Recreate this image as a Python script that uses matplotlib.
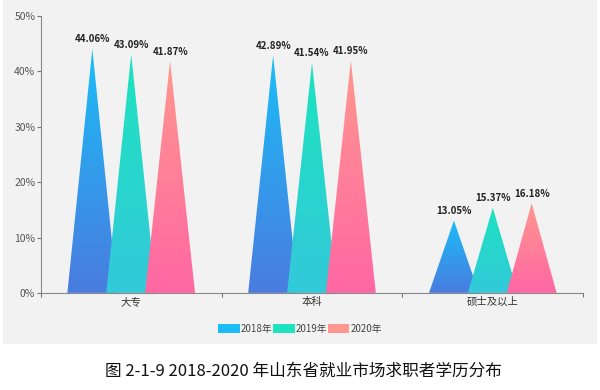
# -*- coding: utf-8 -*-
"""Education level of job seekers in Shandong, 2018-2020 (triangle bars)."""

import numpy as np
import matplotlib as mpl
mpl.use('Agg')
import matplotlib.pyplot as plt
from matplotlib.patches import Polygon, Rectangle, Patch
from matplotlib.colors import LinearSegmentedColormap

plt.rcParams['font.family'] = ['Noto Sans CJK SC', 'DejaVu Sans']

categories = ['大专', '本科', '硕士及以上']
years = ['2018年', '2019年', '2020年']
v2018 = [44.06, 42.89, 13.05]
v2019 = [43.09, 41.54, 15.37]
v2020 = [41.87, 41.95, 16.18]
yticks = [0, 10, 20, 30, 40, 50]

# (bottom colour, top colour) of each series gradient
grads = [('#4a7ce0', '#1bbdf6'),
         ('#33c9da', '#1de3bf'),
         ('#ff67a4', '#ff978e')]


def gradient_triangle(ax, xc, height, half, cols):
    """Draw a triangle with a vertical colour gradient"""
    poly = Polygon([(xc - half, 0), (xc, height), (xc + half, 0)],
                   closed=True, facecolor='none', edgecolor='none')
    ax.add_patch(poly)
    cmap = LinearSegmentedColormap.from_list('g', list(cols))
    grad = np.linspace(0, 1, 256).reshape(-1, 1)
    im = ax.imshow(grad, cmap=cmap, origin='lower', aspect='auto',
                   extent=(xc - half, xc + half, 0, height),
                   interpolation='bilinear')
    im.set_clip_path(poly)


fig = plt.figure(figsize=(6, 3.9), dpi=100, facecolor='white')
# light grey panel behind the chart
fig.patches.append(Rectangle((0.005, 0.118), 0.99, 0.882,
                             transform=fig.transFigure,
                             facecolor='#f2f2f2', edgecolor='none',
                             zorder=-10))
ax = fig.add_axes([0.068, 0.249, 0.904, 0.71])
ax.set_facecolor('none')

offset = 0.215
half = 0.138
series = [v2018, v2019, v2020]
for i, vals in enumerate(series):
    for j, val in enumerate(vals):
        xc = j + 0.5 + (i - 1) * offset
        gradient_triangle(ax, xc, val, half, grads[i])
        ax.text(xc, val + 0.8, '%.2f%%' % val, ha='center', va='bottom',
                fontsize=7, fontweight='bold', color='#222222')

ax.set_xlim(0, 3)
ax.set_ylim(0, 50)
ax.set_yticks(yticks)
ax.set_yticklabels(['%d%%' % t for t in yticks])
ax.set_xticks([0, 1, 2, 3])
ax.set_xticklabels([])
ax.set_xticks([0.5, 1.5, 2.5], minor=True)
ax.set_xticklabels(categories, minor=True)
ax.tick_params(axis='x', which='minor', length=0, labelsize=7.5,
               colors='#333333', pad=3)
ax.tick_params(axis='x', which='major', length=3, color='#777777')
ax.tick_params(axis='y', length=3, color='#777777', labelsize=7.5,
               labelcolor='#555555', pad=1)
for side in ('top', 'right'):
    ax.spines[side].set_visible(False)
for side in ('left', 'bottom'):
    ax.spines[side].set_color('#888888')
    ax.spines[side].set_linewidth(0.8)

handles = [Patch(facecolor=c[1], edgecolor='none') for c in grads]
fig.legend(handles, years, loc='center', bbox_to_anchor=(0.5, 0.157),
           ncol=3, frameon=False, fontsize=7, handlelength=2.2,
           handleheight=1.0, handletextpad=0.1, columnspacing=0.1,
           labelcolor='#444444')

fig.text(0.505, 0.049, '图 2-1-9 2018-2020 年山东省就业市场求职者学历分布',
         ha='center', va='center', fontsize=12, color='#111111')

fig.savefig('out.png', dpi=100, facecolor=fig.get_facecolor())
